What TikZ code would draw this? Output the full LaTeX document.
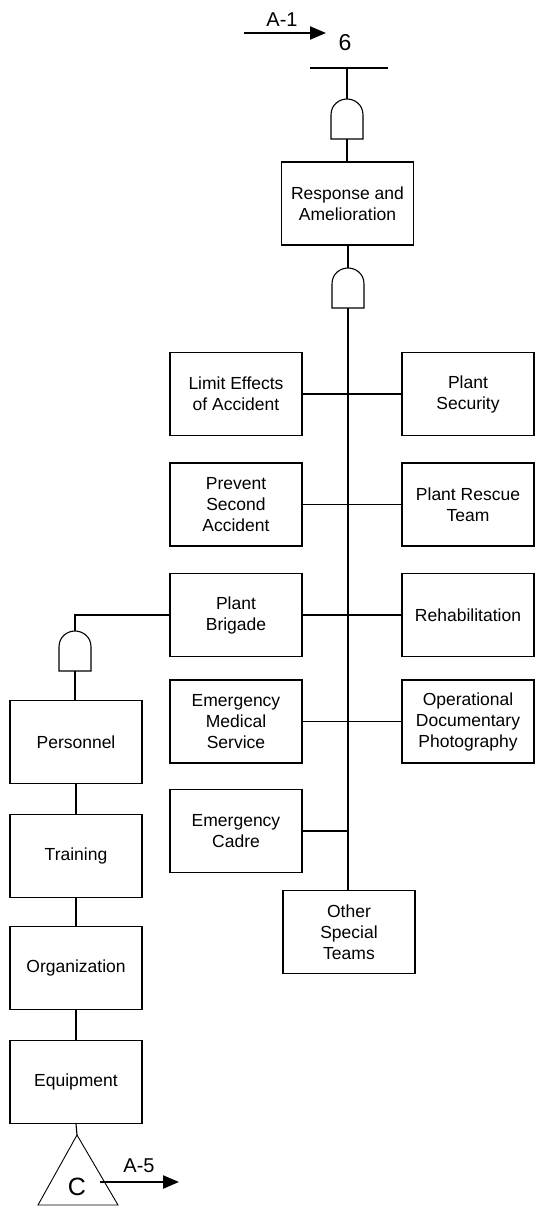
\documentclass[tikz,border=0pt]{standalone}
\usepackage{fontspec}
\setmainfont{Liberation Sans}
\usetikzlibrary{arrows.meta}
\begin{document}
\begin{tikzpicture}[x=1pt,y=-1pt,
  box/.style={draw,line width=1.1pt,minimum width=132pt,minimum height=83pt,
    inner sep=0pt,align=center,font=\fontsize{17.5}{21}\selectfont},
  wire/.style={line width=1.1pt},
  flow/.style={line width=2.2pt,-{Triangle[length=16pt,width=13pt]}},
  lbl/.style={inner sep=0pt,font=\fontsize{20}{21}\selectfont},
  andgate/.pic={
    \draw[line width=1.1pt] (-16,0) -- (-16,-24)
      .. controls (-16,-35) and (-7,-40) .. (0,-40)
      .. controls (7,-40) and (16,-35) .. (16,-24) -- (16,0) -- cycle;
    \coordinate (-top) at (0,-40);
    \coordinate (-bot) at (0,0);
  }]
\useasboundingbox (0,0) rectangle (538,1216);

% incoming transfer and top event
\coordinate (a1s) at (244,33);
\coordinate (a1e) at (326,33);
\draw[flow] (a1s) -- (a1e);
\node[lbl] (a1) at (282,20) {A-1};
\node[lbl,font=\fontsize{23}{24}\selectfont] (six) at (345,43) {6};
\coordinate (barL) at (310,68);
\coordinate (barR) at (388,68);
\coordinate (barM) at (347,68);
\draw[wire] (barL) -- (barR);

% gates
\pic (g1) at (347,139) {andgate};
\pic (g2) at (348,308) {andgate};
\pic (g3) at (75,671) {andgate};

% boxes of the main branch
\node[box] (resp) at (347.5,203.5) {Response and\\Amelioration};
\node[box] (lim)  at (236,394)   {Limit Effects\\of Accident};
\node[box] (sec)  at (468,394)   {Plant\\Security};
\node[box] (prev) at (236,504.5) {Prevent\\Second\\Accident};
\node[box] (resc) at (468,504.5) {Plant Rescue\\Team};
\node[box] (brig) at (236,615)   {Plant\\Brigade};
\node[box] (reha) at (468,615)   {Rehabilitation};
\node[box] (ems)  at (236,721.5) {Emergency\\Medical\\Service};
\node[box] (odp)  at (468,721.5) {Operational\\Documentary\\Photography};
\node[box] (cad)  at (236,831)   {Emergency\\Cadre};
\node[box] (ost)  at (349,932)   {Other\\Special\\Teams};

% chain under the brigade
\node[box] (pers)  at (76,742)  {Personnel};
\node[box] (trai)  at (76,856)  {Training};
\node[box] (org)   at (76,968)  {Organization};
\node[box] (equip) at (76,1082) {Equipment};

% connectors
\draw[wire] (barM) -- (g1-top);
\draw[wire] (g1-bot) -- (resp.north -| g1-bot);
\draw[wire] (resp.south -| g2-top) -- (g2-top);
\draw[wire] (g2-bot) -- (ost.north -| g2-bot);
\draw[wire] (lim.east) -- (sec.west);
\draw[wire] (prev.east) -- (resc.west);
\draw[wire] (brig.east) -- (reha.west);
\draw[wire] (ems.east) -- (odp.west);
\draw[wire] (cad.east) -- (cad.east -| g2-bot);
\draw[wire] (brig.west) -| (g3-top);
\draw[wire] (g3-bot) -- (pers.north -| g3-bot);
\draw[wire] (pers.south) -- (trai.north);
\draw[wire] (trai.south) -- (org.north);
\draw[wire] (org.south) -- (equip.north);

% transfer triangle and outgoing transfer
\coordinate (tapex) at (77,1135);
\coordinate (tbl) at (38,1205);
\coordinate (tbr) at (118,1205);
\draw[wire] (equip.south) -- (tapex);
\draw[line width=0.9pt] (tapex) -- (tbr) -- (tbl) -- cycle;
\node[lbl,font=\fontsize{25}{26}\selectfont] (c) at (77,1187) {C};
\coordinate (a5s) at (100,1182);
\coordinate (a5e) at (179,1182);
\draw[flow] (a5s) -- (a5e);
\node[lbl] (a5) at (139,1166) {A-5};
\end{tikzpicture}
\end{document}
